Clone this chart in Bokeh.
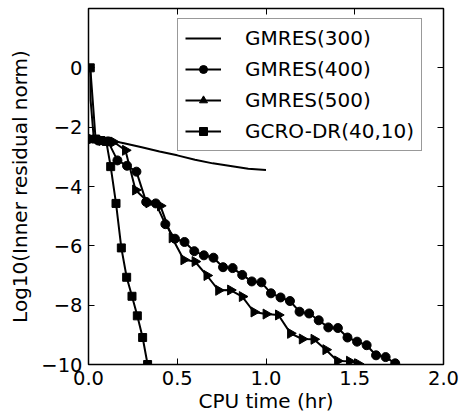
import numpy as np
from bokeh.plotting import figure
from bokeh.models import LinearAxis, FixedTicker, Legend, LegendItem
from bokeh.embed import file_html
from bokeh.resources import INLINE

# ---- data ----
x300 = [0.01, 0.012, 0.03, 0.1, 0.2, 0.3, 0.4, 0.5, 0.6, 0.7, 0.8, 0.9, 1.0]
y300 = [0.0, -1.1, -2.4, -2.42, -2.54, -2.68, -2.82, -2.95, -3.1, -3.22, -3.31, -3.4, -3.44]

x400 = [0.0, 0.055, 0.11, 0.163, 0.217, 0.27, 0.325, 0.379, 0.433, 0.487,
        0.541, 0.596, 0.65, 0.704, 0.758, 0.812, 0.866, 0.92, 0.974, 1.028,
        1.082, 1.135, 1.189, 1.243, 1.297, 1.351, 1.405, 1.459, 1.513, 1.567,
        1.62, 1.674, 1.728]
y400 = [-2.4, -2.45, -2.48, -3.12, -3.3, -3.5, -4.52, -4.57, -5.27, -5.76,
        -5.87, -6.18, -6.32, -6.4, -6.72, -6.75, -6.98, -7.2, -7.23, -7.6,
        -7.74, -7.86, -8.22, -8.28, -8.51, -8.75, -8.77, -9.09, -9.23, -9.35,
        -9.69, -9.75, -9.96]

x500 = [0.01, 0.076, 0.142, 0.208, 0.265, 0.34, 0.405, 0.471, 0.537, 0.6,
        0.667, 0.733, 0.8, 0.866, 0.932, 1.0, 1.07, 1.138, 1.204, 1.27,
        1.337, 1.403, 1.47, 1.52]
y500 = [-2.4, -2.45, -2.5, -2.78, -4.12, -4.55, -4.65, -5.73, -6.47, -6.53,
        -7.0, -7.5, -7.49, -7.71, -8.23, -8.3, -8.33, -8.95, -9.14, -9.15,
        -9.5, -9.88, -9.89, -9.98]

xgc = [0.01, 0.04, 0.07, 0.1, 0.125, 0.155, 0.185, 0.215, 0.245, 0.275, 0.305, 0.333]
ygc = [0.0, -2.4, -2.45, -2.48, -3.33, -4.57, -6.07, -7.06, -7.7, -8.36, -9.09, -10.0]

labels = ["GMRES(300)", "GMRES(400)", "GMRES(500)", "GCRO-DR(40,10)"]
x_ticks = [0, 0.5, 1, 1.5, 2]
x_tick_labels = ["0.0", "0.5", "1.0", "1.5", "2.0"]
y_ticks = [-10, -8, -6, -4, -2, 0]
y_tick_labels = ["\u221210", "\u22128", "\u22126", "\u22124", "\u22122", "0"]

FONT = "DejaVu Sans"

p = figure(width=461, height=418, x_range=(0, 2), y_range=(-10, 2),
           output_backend="svg", toolbar_location=None,
           min_border_left=88, min_border_right=18, min_border_top=8,
           min_border_bottom=54)
p.xgrid.visible = False
p.ygrid.visible = False
p.outline_line_color = "black"
p.outline_line_width = 1.5
p.background_fill_color = "white"
p.border_fill_color = "white"

bottom = p.below[0]
left = p.left[0]
bottom.axis_label = "CPU time (hr)"
left.axis_label = "Log10(Inner residual norm)"

top = LinearAxis()
right = LinearAxis()
p.add_layout(top, "above")
p.add_layout(right, "right")

for ax in [bottom, top]:
    ax.ticker = FixedTicker(ticks=x_ticks)
    ax.major_label_overrides = {t: l for t, l in zip(x_ticks, x_tick_labels)}
for ax in [left, right]:
    ax.ticker = FixedTicker(ticks=y_ticks)
    ax.major_label_overrides = {t: l for t, l in zip(y_ticks, y_tick_labels)}

for ax in [bottom, left, top, right]:
    ax.axis_line_color = None
    ax.major_tick_in = 6
    ax.major_tick_out = 0
    ax.major_tick_line_color = "black"
    ax.major_tick_line_width = 1
    ax.minor_tick_line_color = None
    ax.major_label_text_font = FONT
    ax.major_label_text_font_size = "19.5px"
    ax.major_label_text_color = "black"
    ax.axis_label_text_font = FONT
    ax.axis_label_text_font_size = "20px"
    ax.axis_label_text_font_style = "normal"
    ax.axis_label_text_color = "black"

for ax in [top, right]:
    ax.major_label_text_color = None
    ax.major_label_standoff = 0

bottom.major_label_standoff = 6
left.major_label_standoff = 6
bottom.axis_label_standoff = 1
left.axis_label_standoff = 6

lw = 2
r300 = p.line(x300, y300, line_color="black", line_width=lw)
l400 = p.line(x400, y400, line_color="black", line_width=lw)
s400 = p.scatter(x400, y400, marker="circle", size=9, fill_color="black", line_color="black")
l500 = p.line(x500, y500, line_color="black", line_width=lw)
s500 = p.scatter(x500, y500, marker="triangle", size=10, angle=-np.pi / 2,
                 fill_color="black", line_color="black")
lgc = p.line(xgc, ygc, line_color="black", line_width=lw)
sgc = p.scatter(xgc, ygc, marker="square", size=8, fill_color="black", line_color="black")

legend = Legend(items=[
    LegendItem(label=labels[0], renderers=[r300]),
    LegendItem(label=labels[1], renderers=[l400, s400]),
    LegendItem(label=labels[2], renderers=[l500, s500]),
    LegendItem(label=labels[3], renderers=[lgc, sgc]),
], location=(89, 213))
legend.label_text_font = FONT
legend.label_text_font_size = "20px"
legend.label_text_color = "black"
legend.border_line_color = "#333333"
legend.border_line_width = 1
legend.background_fill_color = "white"
legend.background_fill_alpha = 1
legend.glyph_width = 36
legend.glyph_height = 20
legend.label_height = 20
legend.label_standoff = 24
legend.spacing = 7
legend.padding = 7
legend.margin = 0
p.add_layout(legend, "center")

open("out.html", "w").write(file_html(p, INLINE))
